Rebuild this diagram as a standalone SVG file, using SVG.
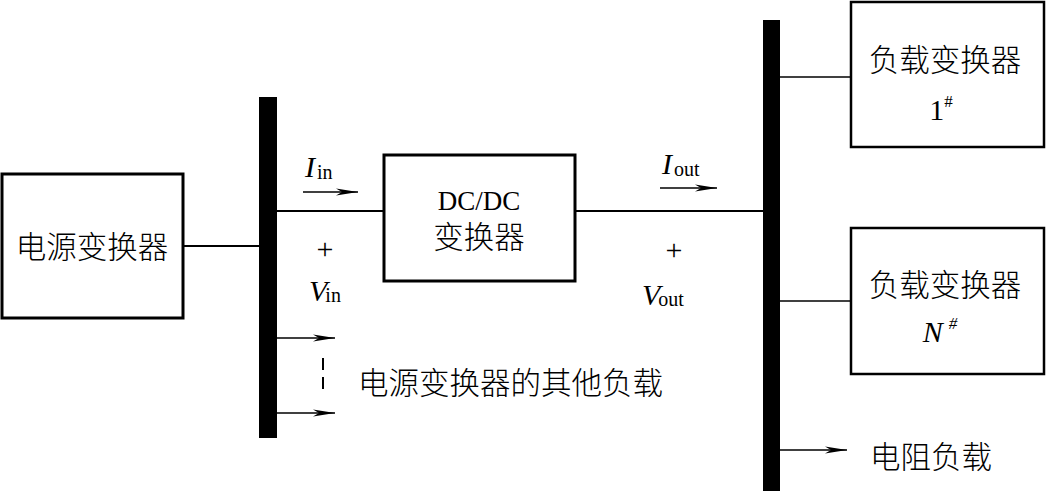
<svg xmlns="http://www.w3.org/2000/svg" width="1046" height="491" viewBox="0 0 1046 491">
<style>
.box{fill:#fff;stroke:#000;stroke-width:3}
.thin{fill:#fff;stroke:#000;stroke-width:2.5}
.bus{fill:#000}
.ln{stroke:#000;stroke-width:2;fill:none}
.ln1{stroke:#000;stroke-width:1.3;fill:none}
.cn{font-family:"Noto Sans CJK SC","Liberation Serif",serif;font-size:30.5px;fill:#000;font-weight:300}
.lat{font-family:"Liberation Serif",serif;fill:#000}
</style>
<defs>
<marker id="ah" markerWidth="24" markerHeight="10" refX="22" refY="5" orient="auto" markerUnits="userSpaceOnUse">
<path d="M0,1.5 L22,5 L0,8.5 L6,5 Z" fill="#000"/>
</marker>
</defs>
<rect width="1046" height="491" fill="#fff"/>
<g id="connectors">
<line class="ln" x1="183" y1="246" x2="259" y2="246"/>
<line class="ln" x1="277" y1="211" x2="384" y2="211"/>
<line class="ln" x1="575" y1="211" x2="763" y2="211"/>
<line class="ln1" x1="780" y1="77" x2="851" y2="77"/>
<line class="ln1" x1="780" y1="301" x2="851" y2="301"/>
<line class="ln1" x1="303" y1="192" x2="358" y2="192" marker-end="url(#ah)"/>
<line class="ln1" x1="660" y1="188" x2="717" y2="188" marker-end="url(#ah)"/>
<line class="ln1" x1="277" y1="338" x2="335" y2="338" marker-end="url(#ah)"/>
<line class="ln1" x1="277" y1="413" x2="335" y2="413" marker-end="url(#ah)"/>
<line class="ln1" x1="780" y1="450" x2="847" y2="450" marker-end="url(#ah)"/>
<line x1="323" y1="358" x2="323" y2="396" stroke="#000" stroke-width="2" stroke-dasharray="12,7"/>
</g>
<g id="bus-in"><rect class="bus" x="259" y="97" width="18" height="341"/></g>
<g id="bus-out"><rect class="bus" x="763" y="20" width="17" height="471"/></g>
<g id="source">
<rect class="box" x="2" y="174" width="181" height="144"/>
<text class="cn" x="92" y="258" text-anchor="middle">电源变换器</text>
</g>
<g id="dcdc">
<rect class="box" x="384" y="155" width="191" height="126"/>
<text class="lat" x="479" y="210" font-size="27" text-anchor="middle">DC/DC</text>
<text class="cn" x="479" y="248" text-anchor="middle">变换器</text>
</g>
<g id="load1">
<rect class="thin" x="851" y="2" width="193" height="145"/>
<text class="cn" x="945" y="71" text-anchor="middle">负载变换器</text>
<text class="lat" x="941" y="120" font-size="30" text-anchor="middle">1<tspan font-size="17" dy="-13">#</tspan></text>
</g>
<g id="loadN">
<rect class="thin" x="851" y="228" width="193" height="146"/>
<text class="cn" x="945" y="296" text-anchor="middle">负载变换器</text>
<text class="lat" x="940" y="342" font-size="30" font-style="italic" text-anchor="middle">N<tspan font-size="17" dx="6" dy="-13">#</tspan></text>
</g>
<g id="labels">
<text class="lat" x="305" y="177" font-size="30" font-style="italic">I<tspan font-style="normal" font-size="20" dx="2" dy="2">in</tspan></text>
<text class="lat" x="325" y="259" font-size="30" text-anchor="middle">+</text>
<text class="lat" x="309" y="301" font-size="30" font-style="italic">V<tspan font-style="normal" font-size="20" dx="-2" dy="1">in</tspan></text>
<text class="lat" x="662" y="174" font-size="30" font-style="italic">I<tspan font-style="normal" font-size="20" dx="2" dy="2">out</tspan></text>
<text class="lat" x="674" y="260" font-size="30" text-anchor="middle">+</text>
<text class="lat" x="642" y="305" font-size="30" font-style="italic">V<tspan font-style="normal" font-size="20" dx="-2" dy="1">out</tspan></text>
<text class="cn" x="358" y="394">电源变换器的其他负载</text>
<text class="cn" x="870" y="468">电阻负载</text>
</g>
</svg>
